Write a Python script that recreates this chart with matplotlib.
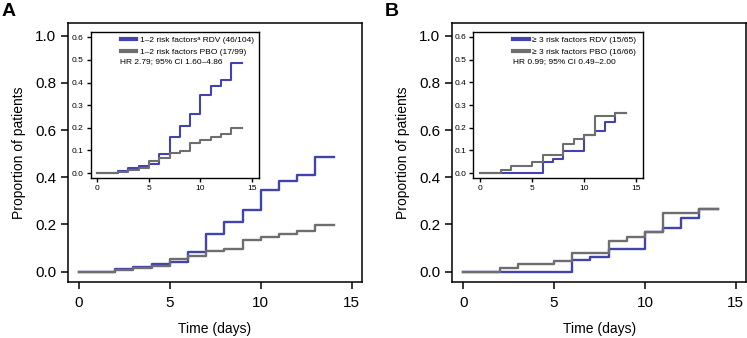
import matplotlib
matplotlib.use("Agg")
import matplotlib.pyplot as plt

plt.rcParams['font.family'] = ['Liberation Sans', 'DejaVu Sans']

# days since start; each value holds from that day to the next
days = list(range(15))

# panel A: 1-2 risk factors
rdv_a = [0, 0, 0.010, 0.021, 0.031, 0.042, 0.085, 0.158, 0.210, 0.262,
         0.346, 0.386, 0.410, 0.485, 0.485]
pbo_a = [0, 0, 0.005, 0.014, 0.024, 0.054, 0.066, 0.088, 0.096, 0.134,
         0.146, 0.158, 0.172, 0.198, 0.198]

# panel B: >=3 risk factors
rdv_b = [0, 0, 0, 0, 0, 0, 0.050, 0.064, 0.097, 0.097,
         0.170, 0.186, 0.226, 0.266, 0.266]
pbo_b = [0, 0, 0.015, 0.031, 0.031, 0.047, 0.080, 0.080, 0.130, 0.148,
         0.167, 0.250, 0.250, 0.264, 0.264]

labels_a = ['1–2 risk factorsᵃ RDV (46/104)', '1–2 risk factors PBO (17/99)']
labels_b = ['≥ 3 risk factors RDV (15/65)', '≥ 3 risk factors PBO (16/66)']
hr_a = 'HR 2.79; 95% CI 1.60–4.86'
hr_b = 'HR 0.99; 95% CI 0.49–2.00'

blue = '#4343b0'
grey = '#6e6e6e'

W, H = 747, 338
fig = plt.figure(figsize=(W / 100, H / 100), dpi=100)


def box(l, t, r, b):
    return [l / W, 1 - b / H, (r - l) / W, (b - t) / H]


def style(ax, lw, tl, fs):
    for s in ax.spines.values():
        s.set_linewidth(lw)
    ax.tick_params(length=tl, width=lw, labelsize=fs, direction='out')


def panel(main_box, inset_box, rdv, pbo, labels, hr, letter, lx, leg_x, hr_x):
    ax = fig.add_axes(box(*main_box))
    ax.step(days, rdv, where='post', color=blue, lw=1.7)
    ax.step(days, pbo, where='post', color=grey, lw=1.7)
    ax.set_xlim(-0.6, 15.56)
    ax.set_ylim(-0.044, 1.054)
    ax.set_xticks([0, 5, 10, 15])
    ax.set_yticks([0, 0.2, 0.4, 0.6, 0.8, 1.0])
    ax.set_yticklabels(['0.0', '0.2', '0.4', '0.6', '0.8', '1.0'])
    style(ax, 1.1, 5, 11)
    ax.tick_params(axis='x', pad=5)
    ax.set_xlabel('Time (days)', fontsize=10, labelpad=8.5)
    ax.set_ylabel('Proportion of patients', fontsize=10, labelpad=6.5)

    ins = fig.add_axes(box(*inset_box))
    ins.step(days, rdv, where='post', color=blue, lw=1.5, label=labels[0])
    ins.step(days, pbo, where='post', color=grey, lw=1.5, label=labels[1])
    ins.set_xlim(-0.65, 15.68)
    ins.set_ylim(-0.023, 0.623)
    ins.set_xticks([0, 5, 10, 15])
    ins.set_yticks([0, 0.1, 0.2, 0.3, 0.4, 0.5, 0.6])
    ins.set_yticklabels(['0.0', '0.1', '0.2', '0.3', '0.4', '0.5', '0.6'])
    style(ins, 1.0, 3, 6)
    ins.tick_params(pad=2)
    leg = ins.legend(loc='upper left', bbox_to_anchor=(leg_x, 0.972), frameon=False,
                     fontsize=6, handlelength=1.9, handletextpad=0.4,
                     labelspacing=0.5, borderpad=0, borderaxespad=0)
    for ln in leg.get_lines():
        ln.set_linewidth(3)
    ins.text(hr_x, 0.795, hr, transform=ins.transAxes, fontsize=6,
             ha='left', va='center')

    fig.text(lx / W, 1 - 12 / H, letter, fontsize=14, fontweight='bold',
             ha='left', va='center')


panel((68, 23, 362, 282), (90.7, 32, 259, 178.3), rdv_a, pbo_a,
      labels_a, hr_a, 'A', 2, 0.178, 0.175)
panel((452.3, 23, 746, 282), (473.3, 31.7, 643.3, 178.3), rdv_b, pbo_b,
      labels_b, hr_b, 'B', 385, 0.235, 0.235)

fig.savefig('out.png', dpi=100)
